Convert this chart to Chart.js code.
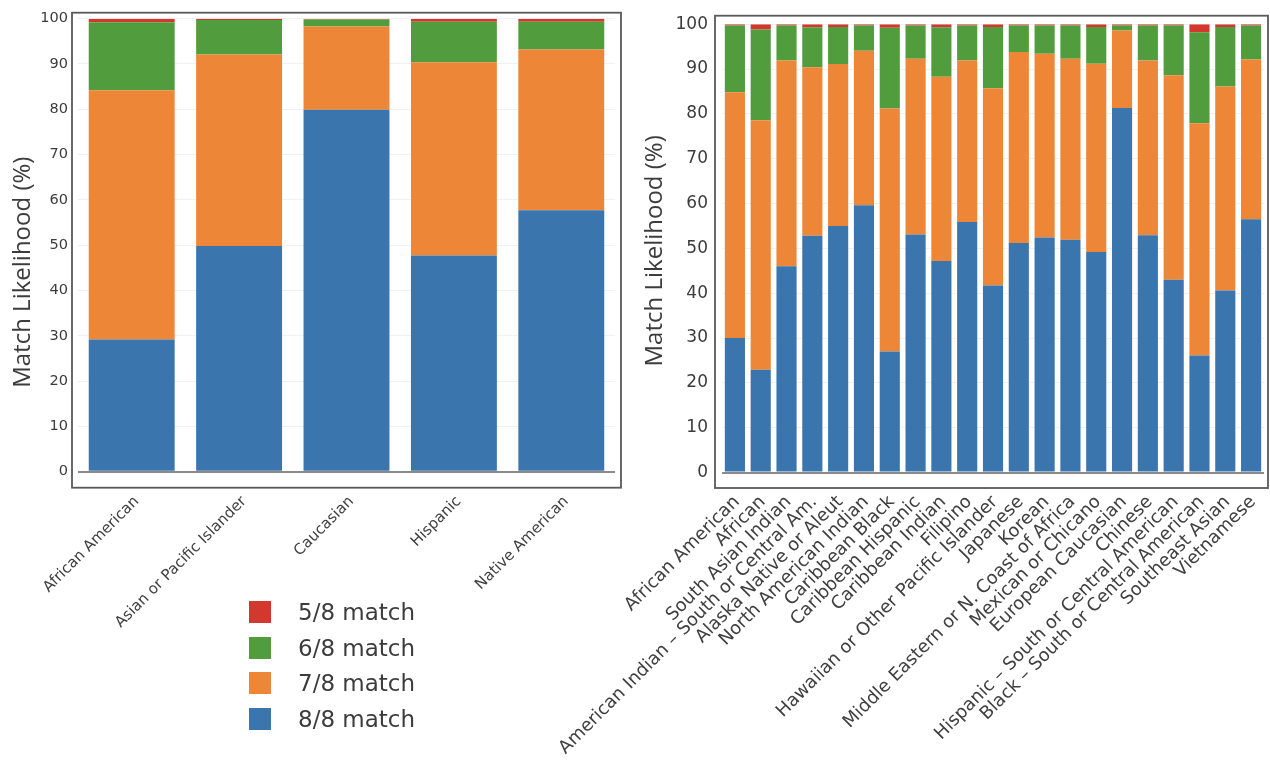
<!DOCTYPE html>
<html>
<head>
<meta charset="utf-8">
<script src="https://cdn.jsdelivr.net/npm/chart.js@4.4.1/dist/chart.umd.min.js"></script>
<style>
  html, body { margin: 0; padding: 0; background: #ffffff; }
  #stage { position: relative; width: 1270px; height: 772px; overflow: hidden; }
  #stage canvas { position: absolute; left: 0; top: 0; }
  #legend { position: absolute; left: 249px; top: 601px; font-family: "DejaVu Sans", Verdana, sans-serif; font-size: 23px; color: #3c3c3c; }
  .lg-row { position: relative; height: 35.7px; }
  .lg-box { position: absolute; left: 0; top: 0; width: 22px; height: 22px; }
  .lg-text { position: absolute; left: 49px; top: -2px; line-height: 26px; white-space: nowrap; }
</style>
</head>
<body>
<div id="stage">
  <canvas id="broad" width="1270" height="772"></canvas>
  <canvas id="detailed" width="1270" height="772"></canvas>
  <div id="legend"></div>
</div>
<script>
// Broad groups (left panel)
const broadGroups = ['African American', 'Asian or Pacific Islander', 'Caucasian', 'Hispanic', 'Native American'];
const broadMatch8 = [29.2, 49.8, 79.9, 47.7, 57.7];
const broadMatch7 = [55.0, 42.3, 18.4, 42.7, 35.5];
const broadMatch6 = [15.0, 7.6, 1.5, 8.9, 6.1];
const broadMatch5 = [0.8, 0.3, 0.2, 0.7, 0.7];

// Detailed groups (right panel)
const detailedGroups = [
  'African American', 'African', 'South Asian Indian',
  'American Indian \u2013 South or Central Am.', 'Alaska Native or Aleut',
  'North American Indian', 'Caribbean Black', 'Caribbean Hispanic',
  'Caribbean Indian', 'Filipino', 'Hawaiian or Other Pacific Islander',
  'Japanese', 'Korean', 'Middle Eastern or N. Coast of Africa',
  'Mexican or Chicano', 'European Caucasian', 'Chinese',
  'Hispanic \u2013 South or Central American', 'Black \u2013 South or Central American',
  'Southeast Asian', 'Vietnamese'
];
const detailedMatch8 = [30.0, 22.9, 46.0, 52.8, 55.0, 59.6, 27.0, 53.1, 47.2, 55.9, 41.7, 51.2, 52.4, 51.9, 49.2, 81.3, 52.9, 43.0, 26.1, 40.6, 56.5];
const detailedMatch7 = [54.8, 55.7, 45.9, 37.6, 36.1, 34.5, 54.2, 39.2, 41.1, 36.0, 44.0, 42.6, 41.0, 40.4, 42.0, 17.3, 39.0, 45.6, 51.8, 45.5, 35.6];
const detailedMatch6 = [14.9, 20.2, 7.8, 8.9, 8.3, 5.6, 18.0, 7.4, 11.0, 7.8, 13.7, 5.9, 6.3, 7.4, 8.2, 1.1, 7.8, 11.1, 20.3, 13.3, 7.6];
const detailedMatch5 = [0.3, 1.2, 0.3, 0.7, 0.6, 0.3, 0.8, 0.3, 0.7, 0.3, 0.6, 0.3, 0.3, 0.3, 0.6, 0.3, 0.3, 0.3, 1.8, 0.6, 0.3];

// Series (bottom of stack first)
const seriesNames = ['8/8 match', '7/8 match', '6/8 match', '5/8 match'];
const seriesColors = ['#3a75ae', '#ee8637', '#519c3c', '#d2382e'];
const yTickValues = [0, 10, 20, 30, 40, 50, 60, 70, 80, 90, 100];
const axisTitle = 'Match Likelihood (%)';

// Box drawn around each plotting panel
const panelFrame = {
  id: 'panelFrame',
  afterDraw(chart, args, o) {
    const a = chart.chartArea, ctx = chart.ctx;
    const x0 = a.left - o.left, y0 = a.top - o.top;
    const x1 = a.right + o.right, y1 = a.bottom + o.bottom;
    ctx.save();
    ctx.strokeStyle = o.color;
    ctx.lineWidth = o.width;
    ctx.strokeRect(x0, y0, x1 - x0, y1 - y0);
    ctx.restore();
  }
};

// Rotated y-axis title placed beside the panel
const sideTitle = {
  id: 'sideTitle',
  afterDraw(chart, args, o) {
    const a = chart.chartArea, ctx = chart.ctx;
    ctx.save();
    ctx.translate(a.left - o.gap, (a.top + a.bottom) / 2 + o.shift);
    ctx.rotate(-Math.PI / 2);
    ctx.font = o.font;
    ctx.fillStyle = o.color;
    ctx.textAlign = 'center';
    ctx.textBaseline = 'middle';
    ctx.fillText(o.text, 0, 0);
    ctx.restore();
  }
};

function buildDatasets(values, barPct) {
  return values.map((data, i) => ({
    label: seriesNames[i],
    data: data,
    backgroundColor: seriesColors[i],
    borderWidth: 0,
    barPercentage: barPct,
    categoryPercentage: 1.0
  }));
}

function makePanel(canvasId, labels, values, cfg) {
  return new Chart(document.getElementById(canvasId), {
    type: 'bar',
    data: { labels: labels, datasets: buildDatasets(values, cfg.barPct) },
    options: {
      responsive: false,
      animation: false,
      devicePixelRatio: 1,
      events: [],
      layout: { padding: { left: cfg.padLeft, right: cfg.padRight, top: cfg.padTop, bottom: 0 } },
      plugins: {
        legend: { display: false },
        tooltip: { enabled: false },
        panelFrame: { left: cfg.frame[0], top: cfg.frame[1], right: cfg.frame[2], bottom: cfg.frame[3], color: '#595959', width: 1.8 },
        sideTitle: { text: axisTitle, gap: cfg.titleGap, shift: cfg.titleShift, font: cfg.titleFont, color: '#3c3c3c' }
      },
      scales: {
        x: {
          stacked: true,
          grid: { display: false, drawTicks: false },
          border: { display: false },
          ticks: {
            autoSkip: false,
            minRotation: 45,
            maxRotation: 45,
            padding: cfg.xPad,
            labelOffset: cfg.xShift,
            color: '#404040',
            font: { family: '"DejaVu Sans", Verdana, sans-serif', size: cfg.xFont }
          },
          afterFit(scale) {
            scale.height = cfg.xHeight;
            // rotated labels may spill past the panel edges; the canvas has room for them
            scale.paddingLeft = 0;
            scale.paddingRight = 0;
          }
        },
        y: {
          stacked: true,
          min: 0,
          max: 100,
          afterBuildTicks(scale) { scale.ticks = yTickValues.map(v => ({ value: v })); },
          grid: {
            drawTicks: false,
            color: ctx => (ctx.tick && ctx.tick.value === 0) ? '#8a8a8a' : 'rgba(0,0,0,0.055)',
            lineWidth: ctx => (ctx.tick && ctx.tick.value === 0) ? 2 : 1
          },
          border: { display: false },
          ticks: {
            padding: cfg.yPad,
            color: '#3c3c3c',
            font: { family: '"DejaVu Sans", Verdana, sans-serif', size: cfg.yFont }
          },
          afterFit(scale) { scale.width = cfg.yWidth; }
        }
      }
    },
    plugins: [panelFrame, sideTitle]
  });
}

const broadChart = makePanel('broad', broadGroups,
  [broadMatch8, broadMatch7, broadMatch6, broadMatch5], {
    barPct: 0.8, padLeft: 0, padRight: 655, padTop: 16.7, yWidth: 78, xHeight: 300.3,
    xPad: 21, xShift: 5, xFont: 15, yPad: 10, yFont: 14.5,
    frame: [6, 6, 6, 16], titleGap: 55, titleShift: 27,
    titleFont: '24px "Open Sans", sans-serif'
  });

const detailedChart = makePanel('detailed', detailedGroups,
  [detailedMatch8, detailedMatch7, detailedMatch6, detailedMatch5], {
    barPct: 0.78, padLeft: 630, padRight: 6, padTop: 22.5, yWidth: 92, xHeight: 299.5,
    xPad: 19, xShift: 2, xFont: 18, yPad: 14, yFont: 17,
    frame: [7, 8.5, 4, 15.5], titleGap: 67, titleShift: 2.5,
    titleFont: '24px "Open Sans", sans-serif'
  });

// Legend listing the top of the stack first
const legendEl = document.getElementById('legend');
for (let i = seriesNames.length - 1; i >= 0; i--) {
  const row = document.createElement('div');
  row.className = 'lg-row';
  const box = document.createElement('div');
  box.className = 'lg-box';
  box.style.background = seriesColors[i];
  const txt = document.createElement('div');
  txt.className = 'lg-text';
  txt.textContent = seriesNames[i];
  row.appendChild(box);
  row.appendChild(txt);
  legendEl.appendChild(row);
}
</script>
</body>
</html>
